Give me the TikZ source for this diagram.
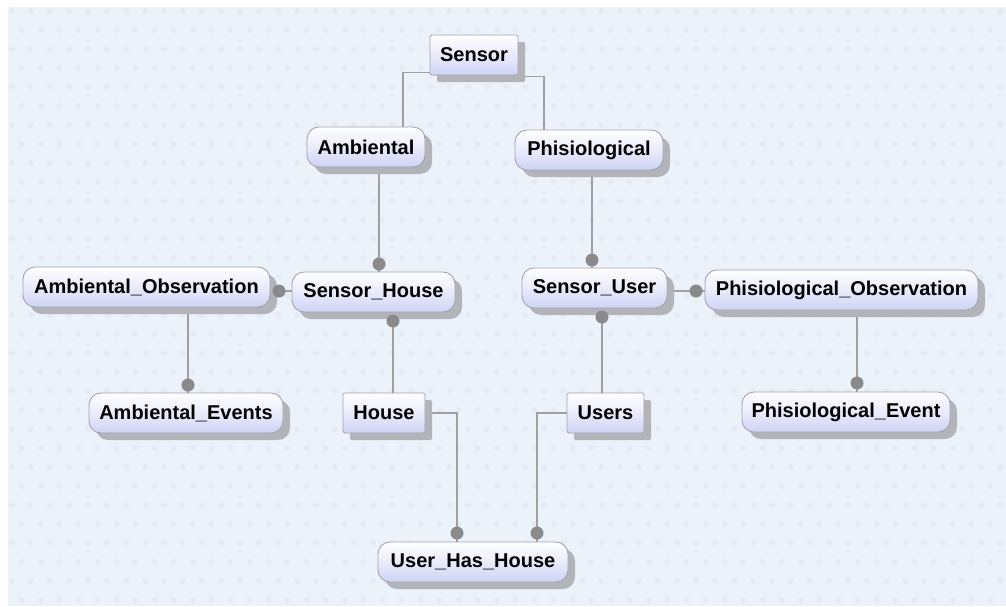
\documentclass[tikz,border=0pt]{standalone}
\usepackage{fontspec}
\setmainfont{Liberation Sans}
\usetikzlibrary{shadows}

\definecolor{canvas}{RGB}{236,242,250}
\definecolor{canvasdot}{RGB}{229,235,246}
\definecolor{wirecol}{RGB}{160,160,162}
\definecolor{knobcol}{RGB}{138,138,140}
\definecolor{boxedge}{RGB}{160,164,178}
\definecolor{boxlow}{RGB}{206,211,245}
\definecolor{boxshadow}{RGB}{178,180,186}

\pgfdeclarelayer{canvaslayer}
\pgfdeclarelayer{wirelayer}
\pgfsetlayers{canvaslayer,wirelayer,main}

\tikzset{
  entity/.style={draw=boxedge, line width=0.9pt,
    top color=white, bottom color=boxlow, middle color=white!55!boxlow,
    drop shadow={shadow xshift=7pt, shadow yshift=-7pt, fill=boxshadow, opacity=1},
    font=\fontsize{20}{24}\selectfont\bfseries, text=black,
    inner sep=0pt, minimum height=40pt},
  roundbox/.style={entity, rounded corners=12pt},
  squarebox/.style={entity, rounded corners=1.5pt},
  link/.style={draw=wirecol, line width=1.5pt},
  knob/.style={fill=knobcol}
}

\begin{document}
\begin{tikzpicture}[x=1pt, y=-1pt]
\useasboundingbox (0,0) rectangle (1006,606);

% canvas with its faint dotted texture
\begin{pgfonlayer}{canvaslayer}
  \fill[white] (0,0) rectangle (1006,606);
  \fill[canvas] (8,7) rectangle (1006,606);
  \foreach \j in {0,...,31} {
    \foreach \i in {0,...,52} {
      \pgfmathsetmacro{\xx}{12 + 19*\i + 9.5*mod(\j,2)}
      \pgfmathsetmacro{\yy}{11 + 19*\j}
      \fill[canvasdot] (\xx,\yy) circle (3);
    }
  }
\end{pgfonlayer}

% tables
\node[squarebox, minimum width=88pt]  (sensor) at (474,55)    {Sensor};
\node[roundbox,  minimum width=118pt] (amb)    at (366,147)   {Ambiental};
\node[roundbox,  minimum width=148pt] (phy)    at (589,150)   {Phisiological};
\node[roundbox,  minimum width=163pt] (sh)     at (373.5,292) {Sensor\_House};
\node[roundbox,  minimum width=145pt] (su)     at (594.5,288) {Sensor\_User};
\node[roundbox,  minimum width=247pt] (ao)     at (146.5,287) {Ambiental\_Observation};
\node[roundbox,  minimum width=194pt] (ae)     at (186,413)   {Ambiental\_Events};
\node[squarebox, minimum width=82pt]  (house)  at (384,413)   {House};
\node[squarebox, minimum width=77pt]  (users)  at (605.5,413) {Users};
\node[roundbox,  minimum width=273pt] (po)     at (841.5,290) {Phisiological\_Observation};
\node[roundbox,  minimum width=208pt] (pe)     at (846,412)   {Phisiological\_Event};
\node[roundbox,  minimum width=190pt] (uhh)    at (473,562)   {User\_Has\_House};

% relationship end points
\coordinate (k1)  at (379,264);
\coordinate (k2)  at (393,321);
\coordinate (k3)  at (279,291);
\coordinate (k4)  at (188,385);
\coordinate (k5)  at (592,260);
\coordinate (k6)  at (602,317);
\coordinate (k7)  at (696,291);
\coordinate (k8)  at (857,383);
\coordinate (k9)  at (457,533);
\coordinate (k10) at (537,533);

% relationship lines, kept behind the tables
\begin{pgfonlayer}{wirelayer}
  \draw[link] ([yshift=3pt]sensor.south west) -| ([xshift=37pt]amb.north);
  \draw[link] ([yshift=-1pt]sensor.south east) -| ([xshift=-45pt]phy.north);
  \draw[link] (amb.south -| k1) -- (sh.north -| k1);
  \draw[link] (sh.south -| k2) -- (house.north -| k2);
  \draw[link] (ao.east |- k3) -- (sh.west |- k3);
  \draw[link] (ao.south -| k4) -- (ae.north -| k4);
  \draw[link] (phy.south -| k5) -- (su.north -| k5);
  \draw[link] (su.south -| k6) -- (users.north -| k6);
  \draw[link] (su.east |- k7) -- (po.west |- k7);
  \draw[link] (po.south -| k8) -- (pe.north -| k8);
  \draw[link] (house.east) -| (uhh.north -| k9);
  \draw[link] (users.west) -| (uhh.north -| k10);
\end{pgfonlayer}

% relationship end markers
\foreach \k in {k1,k2,k3,k4,k5,k6,k7,k8,k9,k10}
  \fill[knob] (\k) circle (6.5);
\end{tikzpicture}
\end{document}
